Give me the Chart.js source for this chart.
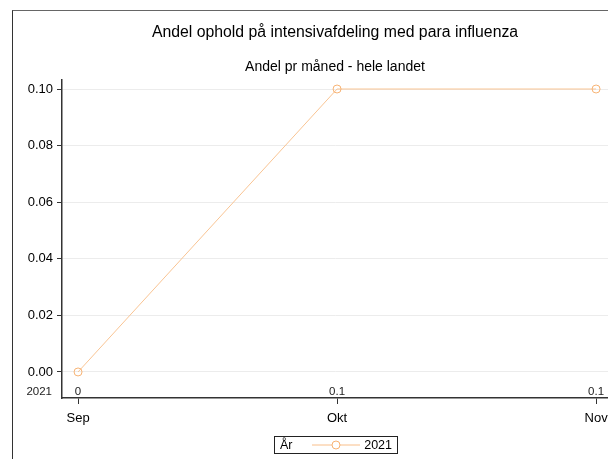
<!DOCTYPE html>
<html>
<head>
<meta charset="utf-8">
<script src="https://cdn.jsdelivr.net/npm/chart.js@4/dist/chart.umd.min.js"></script>
<style>
  body { margin: 0; background: #fff; font-family: "Liberation Sans", Arial, sans-serif; }
  #wrap { position: relative; width: 608px; height: 459px; overflow: hidden; }
  #frame { position: absolute; left: 12px; top: 10px; width: 700px; height: 500px;
           border-left: 1px solid #333; border-top: 1px solid #666; }
  #chart { position: absolute; left: 0; top: 0; }
  #legend { position: absolute; left: 274px; top: 436px; width: 122px; height: 16px;
            border: 1px solid #222; font-size: 12.5px; line-height: 16px; color: #000; }
  #legend .t { position: absolute; left: 5px; }
  #legend .v { position: absolute; right: 5px; }
  #legend svg { position: absolute; left: 37px; top: 2px; }
</style>
</head>
<body>
<div id="wrap">
  <div id="frame"></div>
  <canvas id="chart" width="608" height="459"></canvas>
  <div id="legend"><span class="t">År</span>
    <svg width="48" height="12"><line x1="0" y1="6" x2="48" y2="6" stroke="#f9bf8a" stroke-width="1"/><circle cx="24" cy="6" r="4" fill="#fff" stroke="#f7b374" stroke-width="1"/></svg>
    <span class="v">2021</span></div>
</div>
<script>
// data
const months = ['Sep', 'Okt', 'Nov'];
const seriesName = '2021';
const andel = [0, 0.1, 0.1];
const yTicks = [0, 0.02, 0.04, 0.06, 0.08, 0.1];

const lineColor = '#f9c493';
const pointColor = '#f7b374';
const fontFam = '"Liberation Sans", Arial, sans-serif';

// row of values written just above the x axis
const valueRow = {
    id: 'valueRow',
    afterDatasetsDraw(chart) {
        const ctx = chart.ctx;
        const x = chart.scales.x;
        const rowY = chart.chartArea.bottom - 6;
        ctx.save();
        ctx.font = '11.5px ' + fontFam;
        ctx.fillStyle = '#222';
        ctx.textBaseline = 'middle';
        ctx.textAlign = 'right';
        ctx.fillText(seriesName, 52, rowY);
        ctx.textAlign = 'center';
        for (let i = 0; i < andel.length; i++) {
            ctx.fillText(String(andel[i]), x.getPixelForValue(i), rowY);
        }
        ctx.restore();
    }
};

new Chart(document.getElementById('chart'), {
    type: 'line',
    data: {
        datasets: [{
            label: seriesName,
            data: andel.map((v, i) => ({ x: i, y: v })),
            borderColor: lineColor,
            borderWidth: 1,
            pointRadius: 4,
            pointBorderWidth: 1,
            pointBorderColor: pointColor,
            pointBackgroundColor: 'rgba(255,255,255,0)',
            tension: 0,
            clip: false
        }]
    },
    options: {
        responsive: false,
        animation: false,
        layout: { autoPadding: false, padding: 0 },
        scales: {
            x: {
                type: 'linear',
                min: -0.062,
                max: 2.046,
                afterBuildTicks(scale) {
                    scale.ticks = months.map((m, i) => ({ value: i }));
                },
                afterFit(scale) {
                    scale.height = 61;
                    scale.paddingLeft = 0;
                    scale.paddingRight = 0;
                },
                ticks: {
                    callback: (v) => months[v],
                    color: '#000',
                    font: { size: 13, family: fontFam },
                    padding: 7,
                    maxRotation: 0
                },
                grid: { drawOnChartArea: false, drawTicks: true, tickLength: 6, tickColor: '#333', tickWidth: 1 },
                border: { color: '#333', width: 1.5 }
            },
            y: {
                min: -0.0092,
                max: 0.1032,
                afterBuildTicks(scale) {
                    scale.ticks = yTicks.map(v => ({ value: v }));
                },
                afterFit(scale) {
                    scale.width = 62;
                    scale.paddingTop = 0;
                    scale.paddingBottom = 0;
                },
                ticks: {
                    callback: (v) => v.toFixed(2),
                    color: '#000',
                    font: { size: 13, family: fontFam },
                    padding: 4
                },
                grid: { color: '#ececec', tickColor: '#333', tickLength: 5, lineWidth: 1 },
                border: { color: '#333', width: 1.5 }
            }
        },
        plugins: {
            legend: { display: false },
            tooltip: { enabled: false },
            title: {
                display: true,
                text: 'Andel ophold på intensivafdeling med para influenza',
                fullSize: false,
                color: '#000',
                font: { size: 15.8, weight: 'normal', family: fontFam },
                padding: { top: 23.5, bottom: 8 }
            },
            subtitle: {
                display: true,
                text: 'Andel pr måned - hele landet',
                fullSize: false,
                color: '#000',
                font: { size: 14, weight: 'normal', family: fontFam },
                padding: { top: 8, bottom: 4.7 }
            }
        }
    },
    plugins: [valueRow]
});
</script>
</body>
</html>
